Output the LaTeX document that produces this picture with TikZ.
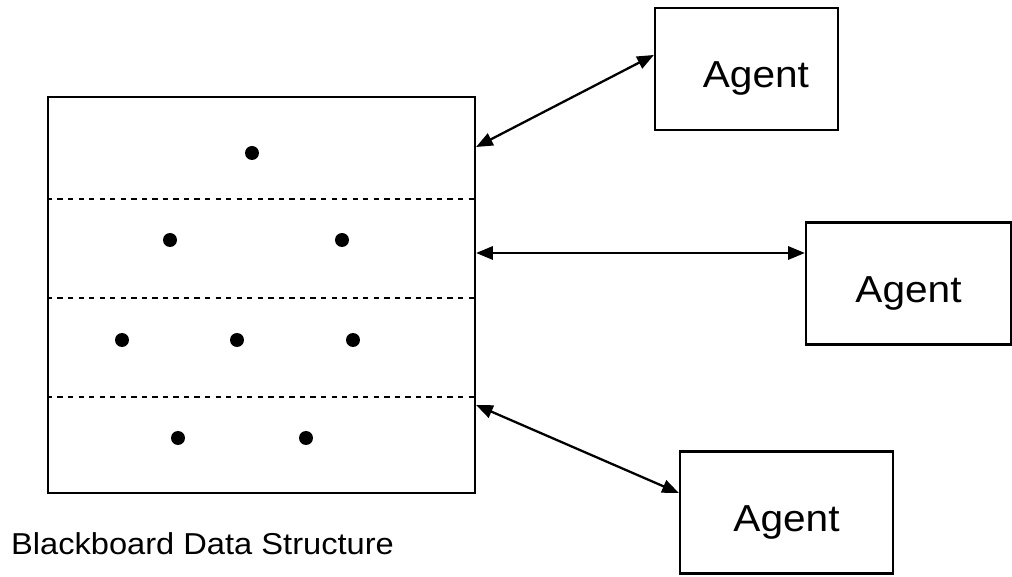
\documentclass[tikz,border=0pt]{standalone}
\usepackage{fontspec}
\setmainfont[FakeStretch=1.08]{Liberation Sans}
\usetikzlibrary{arrows.meta}
\begin{document}
\begin{tikzpicture}[
        x=0.02cm, y=-0.02cm,
        line width=1.3pt,
        agent/.style={draw, minimum width=3.66cm, minimum height=2.44cm, inner sep=0pt,
            font=\fontsize{21.4}{24}\selectfont, text height=0.76cm, text depth=0pt},
        dot/.style={circle, fill, inner sep=0pt, minimum size=0.28cm},
        link/.style={{Triangle[length=9.5pt,width=7.5pt]}-{Triangle[length=9.5pt,width=7.5pt]}}
    ]
        \useasboundingbox (0,0) rectangle (1012,577);

        % Bảng đen
        \node [draw, minimum width=8.54cm, minimum height=7.92cm, inner sep=0pt] (board) at (261.5,295) {};
        \draw[dashed, line width=0.9pt] (board.west |- 0,199) -- (board.east |- 0,199);
        \draw[dashed, line width=0.9pt] (board.west |- 0,298) -- (board.east |- 0,298);
        \draw[dashed, line width=0.9pt] (board.west |- 0,397) -- (board.east |- 0,397);
        \node [anchor=base west, inner sep=0pt, font=\fontsize{17.2}{20}\selectfont] (title) at (10,555) {Blackboard Data Structure};

        % Các điểm dữ liệu
        \foreach \px/\py in {252/153, 170/240, 342/240, 122/340, 237/340, 353/340, 178/438, 306/438}
            \node [dot] at (\px,\py) {};

        % Các tác tử
        \node [agent, text width=2.5cm, align=right] (A1) at (746.5,69) {Agent};
        \node [agent, minimum width=4.1cm] (A2) at (908.5,283.5) {Agent};
        \node [agent, minimum width=4.26cm] (A3) at (786.5,512.5) {Agent};

        \coordinate (b1) at (board.east |- 0,147);
        \coordinate (b2) at (board.east |- 0,253);
        \coordinate (b3) at (board.east |- 0,405);
        \coordinate (a1) at (A1.west |- 0,55);
        \coordinate (a3) at (A3.west |- 0,493);

        % Liên kết
        \draw[link] (b1) -- (a1);
        \draw[link] (b2) -- (A2.west |- b2);
        \draw[link] (b3) -- (a3);
    \end{tikzpicture}
\end{document}
